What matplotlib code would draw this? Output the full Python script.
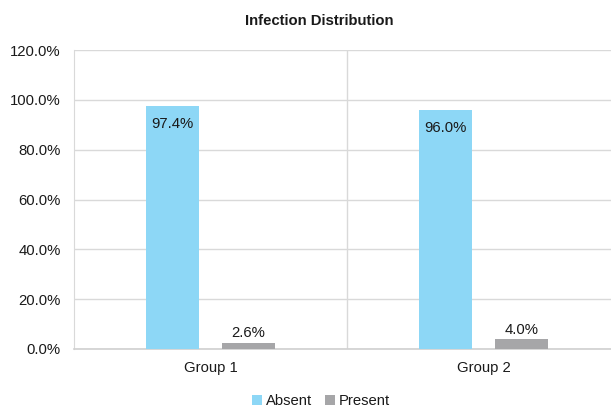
import matplotlib
matplotlib.use("Agg")
import matplotlib.pyplot as plt
from matplotlib.ticker import FuncFormatter, MultipleLocator

plt.rcParams['font.family'] = ['Liberation Sans', 'DejaVu Sans']

groups = ["Group 1", "Group 2"]
series_names = ["Absent", "Present"]
absent = [97.4, 96.0]
present = [2.6, 4.0]
colors = ["#8DD7F6", "#A6A6A8"]

fs = 10.7
txt = "#1a1a1a"

fig = plt.figure(figsize=(6.11, 4.08), dpi=100)
ax = fig.add_axes([74/611, 59/408, 546/611, 299/408])

x = [i + 0.5 for i in range(len(groups))]
w = 0.194
off = 0.139
b1 = ax.bar([v - off for v in x], absent, w, color=colors[0], label=series_names[0], zorder=3)
b2 = ax.bar([v + off for v in x], present, w, color=colors[1], label=series_names[1], zorder=3)

for rect, val in zip(b1, absent):
    ax.text(rect.get_x() + rect.get_width()/2, val - 4.4, f"{val:.1f}%",
            ha="center", va="top", fontsize=fs, color=txt, zorder=4)
for rect, val in zip(b2, present):
    ax.text(rect.get_x() + rect.get_width()/2, val + 0.9, f"{val:.1f}%",
            ha="center", va="bottom", fontsize=fs, color=txt, zorder=4)

ax.set_xlim(0, len(groups))
ax.set_ylim(0, 120)
ax.yaxis.set_major_locator(MultipleLocator(20))
ax.yaxis.set_major_formatter(FuncFormatter(lambda v, p: f"{v:.1f}%"))
ax.set_xticks(x)
ax.set_xticklabels(groups)
ax.tick_params(axis="both", length=0, labelsize=fs, colors=txt)
ax.tick_params(axis="y", pad=9.4)
ax.tick_params(axis="x", pad=8.6)

ax.grid(axis="y", color="#D9D9D9", linewidth=1, zorder=0)
for i in range(1, len(groups)):
    ax.axvline(i, color="#D9D9D9", linewidth=1, zorder=0)

for s in ["top", "right"]:
    ax.spines[s].set_visible(False)
ax.spines["left"].set_color("#D9D9D9")
ax.spines["bottom"].set_color("#D0D0D0")
ax.spines["bottom"].set_linewidth(1.2)

fig.text(319.5/611, 1 - 21/408, "Infection Distribution", ha="center", va="center",
         fontsize=10.7, fontweight="bold", color=txt)

fig.legend(handles=[b1, b2], labels=series_names, loc="center",
           bbox_to_anchor=(321/611, 1 - 401/408), ncol=2, frameon=False,
           fontsize=fs, handlelength=0.67, handleheight=0.67, handletextpad=0.27,
           columnspacing=0.87, labelcolor=txt, borderpad=0)

fig.savefig("out.png", dpi=100)
